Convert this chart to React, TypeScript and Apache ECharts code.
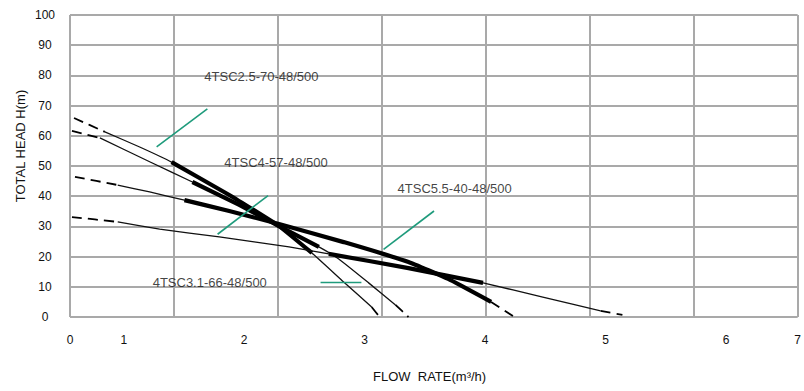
import React, { useEffect, useRef } from "react";
import * as echarts from "echarts";

// Flow values are on the printed flow scale (m3/h), heads in m.
const flowA = [0.587, 0.843, 1.132, 1.397, 1.876, 2.289, 2.562, 2.826, 3.058, 3.124];
const headA = [65.9, 61.3, 56.3, 51.3, 40.4, 30.1, 21.2, 11.6, 3.3, 0];
const flowB = [0.570, 0.802, 1.215, 1.570, 1.959, 2.289, 2.62, 2.785, 3.033, 3.256, 3.364];
const headB = [61.6, 59.3, 51.4, 44.7, 37.1, 30.1, 23.2, 19.2, 11.3, 4.0, 0];
const flowC = [0.595, 0.950, 1.215, 1.504, 1.876, 2.289, 2.826, 3.364, 3.694, 4.050, 4.231];
const headC = [46.4, 43.7, 41.4, 38.7, 35.1, 30.8, 24.8, 18.2, 12.6, 5.0, 0.3];
const flowD = [0.570, 0.950, 1.298, 1.793, 2.372, 2.702, 3.364, 3.983, 4.479, 4.959, 5.140];
const headD = [33.1, 31.5, 29.1, 26.5, 23.2, 20.9, 16.2, 11.3, 6.6, 2.0, 0.7];
// index of the first and last point of the thick (recommended) range
const thickA = [3, 6];
const thickB = [3, 6];
const thickC = [3, 9];
const thickD = [5, 7];

const modelNames = ["4TSC2.5-70-48/500", "4TSC4-57-48/500", "4TSC5.5-40-48/500", "4TSC3.1-66-48/500"];
const labelFlow = [1.669, 1.835, 3.273, 1.24];
const labelHead = [79.8, 51.0, 42.7, 11.3];
// green leader lines [flow1, head1, flow2, head2]
const leaderA = [1.273, 56.3, 1.694, 68.9];
const leaderC = [1.779, 27.4, 2.198, 40.2];
const leaderD = [3.157, 22.4, 3.576, 35.1];
const leaderB = [2.634, 11.4, 2.973, 11.4];

const yTicks = [0, 100, 10];
const xGridMax = 7;
const xLabelMin = 0.5537;
const xLabelMax = 6.595;

const FONT = "'Liberation Sans', Arial, sans-serif";

function seg(xs: number[], ys: number[], from: number, to: number) {
  const out: number[][] = [];
  for (let i = from; i <= to; i++) out.push([xs[i], ys[i]]);
  return out;
}

function curveSeries(xs: number[], ys: number[], thick: number[]) {
  const n = xs.length;
  const base = { type: "line", xAxisIndex: 0, yAxisIndex: 0, symbol: "none", silent: true, smooth: 0.12 };
  return [
    { ...base, data: seg(xs, ys, 0, 1), lineStyle: { color: "#000", width: 1.8, type: [10, 6] } },
    { ...base, data: seg(xs, ys, n - 2, n - 1), lineStyle: { color: "#000", width: 1.8, type: [10, 6] } },
    { ...base, data: seg(xs, ys, 1, n - 2), lineStyle: { color: "#111", width: 1.3 } },
    { ...base, data: seg(xs, ys, thick[0], thick[1]), lineStyle: { color: "#000", width: 4.2 } },
  ];
}

function leader(l: number[]) {
  return {
    type: "line",
    xAxisIndex: 0,
    symbol: "none",
    silent: true,
    data: [[l[0], l[1]], [l[2], l[3]]],
    lineStyle: { color: "#1f9b7c", width: 1.6 },
  };
}

export default function App() {
  const ref = useRef<HTMLDivElement>(null);
  useEffect(() => {
    document.body.style.margin = "0";
    const chart = echarts.init(ref.current!, null, { renderer: "svg" });
    chart.setOption({
      animation: false,
      backgroundColor: "#fff",
      grid: { left: 70, right: 3, top: 15, bottom: 74 },
      xAxis: [
        {
          type: "value",
          min: xLabelMin,
          max: xLabelMax,
          splitNumber: 6,
          axisLine: { show: false },
          axisTick: { show: false },
          splitLine: { show: false },
          axisLabel: {
            showMinLabel: true,
            showMaxLabel: true,
            margin: 17,
            fontSize: 12,
            fontFamily: FONT,
            color: "#111",
            formatter: (v: number) => (v < 0.6 ? "0" : v > 6.5 ? "7" : String(Math.round(v))),
          },
        },
        {
          type: "value",
          min: 0,
          max: xGridMax,
          interval: 1,
          position: "bottom",
          axisLine: { show: false },
          axisTick: { show: false },
          axisLabel: { show: false },
          splitLine: { show: true, lineStyle: { color: "#a9a9a9", width: 2 } },
        },
      ],
      yAxis: {
        type: "value",
        min: yTicks[0],
        max: yTicks[1],
        interval: yTicks[2],
        axisLine: { show: false },
        axisTick: { show: false },
        splitLine: { show: true, lineStyle: { color: "#a9a9a9", width: 2 } },
        axisLabel: { align: "center", margin: 25, fontSize: 12, fontFamily: FONT, color: "#111" },
      },
      graphic: [
        {
          type: "text",
          x: 20,
          y: 146,
          rotation: Math.PI / 2,
          style: {
            text: "TOTAL HEAD H(m)",
            font: `13px ${FONT}`,
            fill: "#111",
            textAlign: "center",
            textVerticalAlign: "middle",
          },
        },
        {
          type: "text",
          x: 373,
          y: 376,
          style: {
            text: "FLOW  RATE(m³/h)",
            font: `13px ${FONT}`,
            fill: "#111",
            textAlign: "left",
            textVerticalAlign: "middle",
          },
        },
      ],
      series: [
        ...curveSeries(flowA, headA, thickA),
        ...curveSeries(flowB, headB, thickB),
        ...curveSeries(flowC, headC, thickC),
        ...curveSeries(flowD, headD, thickD),
        leader(leaderA),
        leader(leaderB),
        leader(leaderC),
        leader(leaderD),
        {
          type: "scatter",
          xAxisIndex: 0,
          symbolSize: 0,
          silent: true,
          data: modelNames.map((name, i) => ({ name, value: [labelFlow[i], labelHead[i]] })),
          label: {
            show: true,
            position: "right",
            distance: 0,
            formatter: "{b}",
            fontSize: 13,
            fontFamily: FONT,
            color: "#111",
          },
        },
      ],
    });
    return () => chart.dispose();
  }, []);
  return <div ref={ref} style={{ width: 804, height: 391 }} />;
}
